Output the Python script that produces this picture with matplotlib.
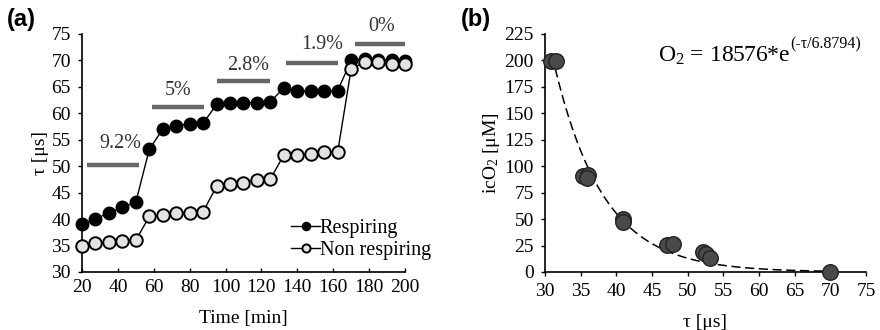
import numpy as np
import matplotlib
matplotlib.use("Agg")
import matplotlib.pyplot as plt

plt.rcParams['font.family'] = ['Liberation Serif', 'DejaVu Serif']
plt.rcParams['mathtext.fontset'] = 'custom'
plt.rcParams['mathtext.rm'] = 'Liberation Serif'
plt.rcParams['mathtext.it'] = 'Liberation Serif:italic'

# panel (a) data
time_min = [20, 27.5, 35, 42.5, 50, 57.5, 65, 72.5, 80, 87.5, 95, 102.5, 110, 117.5, 125,
            132.5, 140, 147.5, 155, 162.5, 170, 177.5, 185, 192.5, 200]
tau_resp = [39.0, 40.0, 41.2, 42.2, 43.2, 53.2, 57.0, 57.6, 58.0, 58.1, 61.7, 62.0, 62.0, 62.0, 62.2,
            64.8, 64.3, 64.2, 64.2, 64.3, 70.0, 70.3, 70.1, 70.0, 69.9]
tau_nonresp = [34.9, 35.4, 35.6, 35.9, 36.0, 40.5, 40.7, 41.1, 41.2, 41.4, 46.2, 46.6, 46.9, 47.3, 47.6,
               52.1, 52.1, 52.3, 52.6, 52.7, 68.4, 69.7, 69.7, 69.4, 69.4]

# O2 level bars: label, start, end, level
o2_labels = ['9.2%', '5%', '2.8%', '1.9%', '0%']
bar_start = [23, 59, 95.5, 133.5, 172]
bar_end = [51.5, 88, 124.5, 162.5, 200.5]
bar_level = [50.2, 61.2, 66.1, 69.6, 73.2]
label_x = [41.2, 73.5, 112.5, 153.8, 187.2]
label_y = [54.3, 64.4, 69.0, 73.1, 76.5]

# panel (b) data
tau_b = [30.9, 31.6, 35.3, 36.0, 35.9, 41.0, 40.9, 47.1, 47.9, 52.2, 52.6, 53.2, 69.9]
o2_b = [199, 199, 90.8, 91.7, 89.0, 49.8, 47.6, 25.9, 26.9, 19.2, 17.0, 13.0, 0.2]
fit_a = 18576
fit_t = 6.8794

fig = plt.figure(figsize=(8.8, 3.3), dpi=100)
ax1 = fig.add_axes([0.0932, 0.1758, 0.367, 0.7212])
ax2 = fig.add_axes([0.6193, 0.1758, 0.3648, 0.7212])

ax1.plot(time_min, tau_resp, '-o', color='black', lw=1, ms=9, mfc='black', mec='black',
         mew=1, label='Respiring', clip_on=False, zorder=3)
ax1.plot(time_min, tau_nonresp, '-o', color='black', lw=1, ms=9, mfc='#e3e3e3', mec='black',
         mew=1.4, label='Non respiring', clip_on=False, zorder=3)
for s, e, lv in zip(bar_start, bar_end, bar_level):
    ax1.plot([s, e], [lv, lv], color='#666666', lw=3.2, solid_capstyle='butt')
for lab, lx, ly in zip(o2_labels, label_x, label_y):
    ax1.text(lx, ly, lab, ha='center', va='center', fontsize=14.5, color='#333333')

ax1.set_xlim(20, 200)
ax1.set_ylim(30, 75)
ax1.set_xticks(np.arange(20, 201, 20))
ax1.set_yticks(np.arange(30, 76, 5))
ax1.set_xlabel('Time [min]', fontsize=14, labelpad=10)
ax1.set_ylabel('τ [μs]', fontsize=14, labelpad=2)
ax1.tick_params(axis='x', direction='in', length=3, labelsize=14, width=1, pad=5)
ax1.tick_params(axis='y', direction='out', length=3, labelsize=14, width=1, pad=5)
leg = ax1.legend(loc='lower right', bbox_to_anchor=(1.08, 0.05), frameon=False, fontsize=14.5,
                 handlelength=1.4, handletextpad=0.0, borderaxespad=0, borderpad=0,
                 labelspacing=0.15, markerscale=0.65)

tau_fit = np.linspace(31.0, 69.5, 200)
ax2.plot(tau_fit, fit_a * np.exp(-tau_fit / fit_t), color='black', lw=1.1, dashes=(6, 3))
ax2.scatter(tau_b, o2_b, s=125, color='#4a4a4a', edgecolors='#222222', linewidths=1,
            zorder=3, clip_on=False)
ax2.set_xlim(30, 75)
ax2.set_ylim(0, 225)
ax2.set_xticks(np.arange(30, 76, 5))
ax2.set_yticks(np.arange(0, 226, 25))
ax2.set_xlabel('τ [μs]', fontsize=14, labelpad=10)
ax2.set_ylabel(r'icO$_2$ [μM]', fontsize=14, labelpad=2)
ax2.tick_params(axis='both', direction='out', length=3, labelsize=14, width=1, pad=5)
eq = ax2.text(0.353, 0.885, r'O$_2$ = 18576*e', transform=ax2.transAxes, fontsize=17,
              va='baseline')
ax2.annotate('(-τ/6.8794)', xy=(1.0, 0.62), xycoords=eq, fontsize=11.5, va='bottom', ha='left')

for ax in (ax1, ax2):
    ax.spines['top'].set_visible(False)
    ax.spines['right'].set_visible(False)
    ax.spines['left'].set_linewidth(1.2)
    ax.spines['bottom'].set_linewidth(1.2)

fig.text(0.008, 0.94, '(a)', fontsize=17, fontweight='bold', family='Liberation Sans', va='center')
fig.text(0.524, 0.94, '(b)', fontsize=17, fontweight='bold', family='Liberation Sans', va='center')

fig.savefig('out.png', dpi=100)
